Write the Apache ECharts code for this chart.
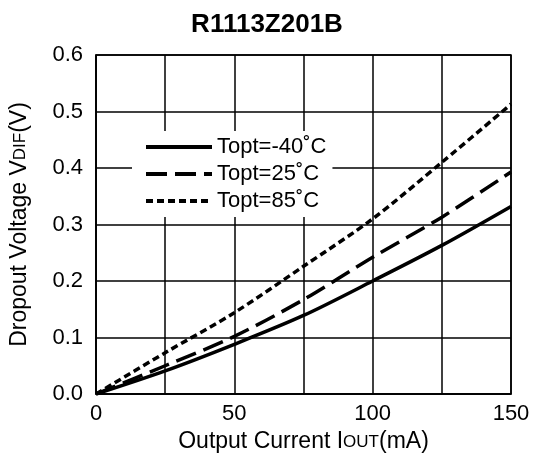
<!DOCTYPE html>
<html>
<head>
<meta charset="utf-8">
<script src="https://cdn.jsdelivr.net/npm/echarts@6/dist/echarts.min.js"></script>
<style>
  html, body { margin: 0; padding: 0; background: #fff; }
  #main { width: 534px; height: 468px; }
</style>
</head>
<body>
<div id="main"></div>
<script>
// output current (mA) read at each grid column
var current = [0, 25, 50, 75, 100, 125, 150];
// dropout voltage (V) per temperature
var vMinus40 = [0, 0.041, 0.088, 0.139, 0.200, 0.263, 0.332];
var v25 = [0, 0.050, 0.102, 0.167, 0.242, 0.313, 0.393];
var v85 = [0, 0.073, 0.144, 0.226, 0.310, 0.410, 0.513];
var seriesNames = ['Topt=-40˚C', 'Topt=25˚C', 'Topt=85˚C'];
var xTicks = [0, 50, 100, 150];

function pairs(ys) {
    return current.map(function (x, i) { return [x, ys[i]]; });
}

var myChart = echarts.init(document.getElementById('main'));
var font = 'Liberation Sans, Arial, sans-serif';
// small capitals sitting on the baseline (OUT, DIF)
var smallCaps = { fontFamily: font, fontSize: 17, color: '#000', verticalAlign: 'bottom', lineHeight: 17, padding: [0, 0, 2, 0] };

var option = {
    backgroundColor: '#fff',
    animation: false,
    title: {
        text: 'R1113Z201B',
        left: 'center',
        top: 7,
        textStyle: { fontFamily: font, fontSize: 26, fontWeight: 'bold', color: '#000' }
    },
    grid: {
        left: 94, right: 23, top: 55, bottom: 74,
        show: true, borderColor: '#000', borderWidth: 1.5
    },
    legend: {
        orient: 'vertical',
        left: 132, top: 131,
        padding: [5, 6, 5, 12],
        backgroundColor: '#fff',
        itemWidth: 66, itemHeight: 14, itemGap: 5,
        itemStyle: { opacity: 0 },
        lineStyle: { width: 4 },
        textStyle: { fontFamily: font, fontSize: 22, lineHeight: 22, color: '#000' },
        data: seriesNames
    },
    xAxis: {
        type: 'value', min: 0, max: 150, interval: 25,
        name: 'Output Current I{s|OUT}(mA)',
        nameLocation: 'middle', nameGap: 36,
        nameTextStyle: {
            fontFamily: font, fontSize: 23, lineHeight: 23, color: '#000',
            rich: { s: smallCaps }
        },
        axisLine: { lineStyle: { color: '#000', width: 1.5 } },
        axisTick: { show: false },
        axisLabel: {
            fontFamily: font, fontSize: 22, color: '#000', margin: 9,
            formatter: function (v) { return xTicks.indexOf(v) >= 0 ? String(v) : ''; }
        },
        splitLine: { show: true, lineStyle: { color: '#000', width: 1.5 } }
    },
    yAxis: {
        type: 'value', min: 0, max: 0.6, interval: 0.1,
        name: 'Dropout Voltage V{s|DIF}(V)',
        nameLocation: 'middle', nameGap: 65,
        nameTextStyle: {
            fontFamily: font, fontSize: 23, lineHeight: 23, color: '#000',
            rich: { s: smallCaps }
        },
        axisLine: { lineStyle: { color: '#000', width: 1.5 } },
        axisTick: { show: false },
        axisLabel: {
            fontFamily: font, fontSize: 22, color: '#000', margin: 13,
            formatter: function (v) { return v.toFixed(1); }
        },
        splitLine: { show: true, lineStyle: { color: '#000', width: 1.5 } }
    },
    series: [
        {
            name: seriesNames[0], type: 'line', smooth: 0.3, symbol: 'none',
            data: pairs(vMinus40), color: '#000',
            lineStyle: { color: '#000', width: 3.5, type: 'solid' }
        },
        {
            name: seriesNames[1], type: 'line', smooth: 0.3, symbol: 'none',
            data: pairs(v25), color: '#000',
            lineStyle: { color: '#000', width: 3.5, type: [21, 8] }
        },
        {
            name: seriesNames[2], type: 'line', smooth: 0.3, symbol: 'none',
            data: pairs(v85), color: '#000',
            lineStyle: { color: '#000', width: 3.5, type: [7, 4] }
        }
    ]
};
myChart.setOption(option);
</script>
</body>
</html>
